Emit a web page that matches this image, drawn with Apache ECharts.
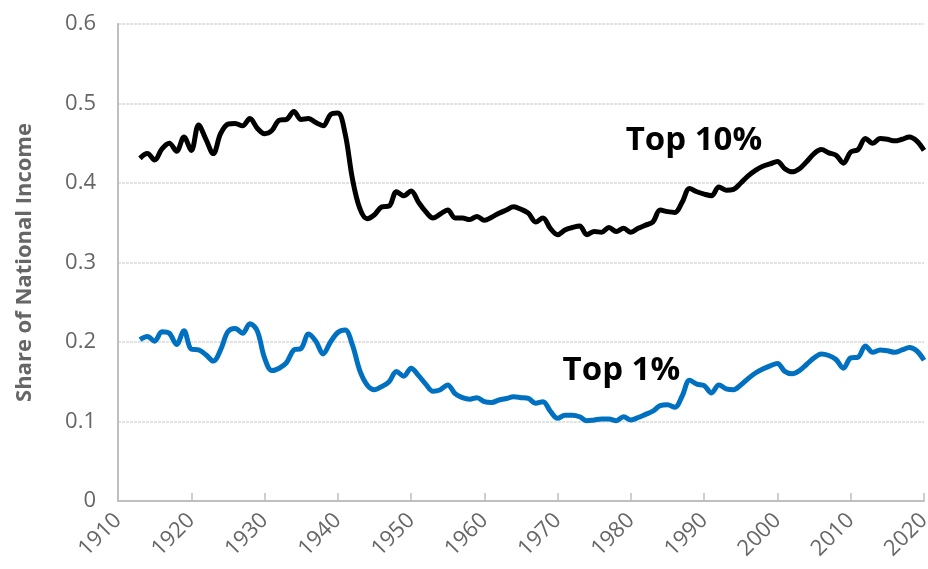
<!DOCTYPE html>
<html>
<head>
<meta charset="utf-8">
<script src="https://cdn.jsdelivr.net/npm/echarts@6/dist/echarts.min.js"></script>
<style>html,body{margin:0;padding:0;background:#fff;}#c{width:928px;height:569px;}</style>
</head>
<body>
<div id="c"></div>
<script>
var startYear = 1913;
var top10 = [
0.431,0.437,0.429,0.443,0.450,0.440,0.458,0.441,0.473,0.455,
0.437,0.462,0.474,0.475,0.472,0.481,0.469,0.462,0.466,0.479,
0.480,0.490,0.480,0.481,0.476,0.472,0.486,0.488,0.462,0.405,
0.368,0.355,0.360,0.370,0.371,0.389,0.384,0.390,0.376,0.364,
0.356,0.361,0.366,0.356,0.356,0.354,0.358,0.353,0.357,0.362,
0.366,0.370,0.367,0.362,0.351,0.356,0.343,0.335,0.341,0.344,
0.346,0.335,0.339,0.338,0.344,0.339,0.343,0.338,0.343,0.347,
0.351,0.366,0.364,0.363,0.376,0.393,0.389,0.386,0.384,0.395,
0.391,0.392,0.400,0.409,0.416,0.421,0.424,0.427,0.418,0.414,
0.418,0.427,0.437,0.442,0.438,0.435,0.425,0.439,0.442,0.456,
0.450,0.456,0.455,0.453,0.455,0.458,0.453,0.441
];
var top1 = [
0.203,0.207,0.201,0.213,0.211,0.197,0.214,0.191,0.190,0.184,
0.176,0.190,0.213,0.217,0.211,0.223,0.214,0.180,0.164,0.167,
0.174,0.190,0.192,0.210,0.201,0.185,0.200,0.212,0.215,0.196,
0.164,0.146,0.140,0.144,0.150,0.163,0.157,0.167,0.158,0.147,
0.138,0.140,0.146,0.135,0.130,0.128,0.130,0.125,0.124,0.127,
0.129,0.131,0.130,0.129,0.123,0.125,0.113,0.104,0.108,0.108,
0.106,0.101,0.102,0.103,0.103,0.101,0.106,0.102,0.105,0.109,
0.113,0.120,0.121,0.118,0.132,0.152,0.147,0.145,0.136,0.146,
0.141,0.140,0.146,0.154,0.161,0.166,0.170,0.173,0.163,0.160,
0.164,0.172,0.180,0.185,0.183,0.178,0.167,0.180,0.181,0.195,
0.187,0.190,0.189,0.187,0.190,0.193,0.189,0.177
];
var seriesNames = ['Top 10%', 'Top 1%'];
var labelPos10 = [1988.6, 0.453];
var labelPos1 = [1978.7, 0.1635];
var yTitle = 'Share of National Income';

function pairs(arr){ return arr.map(function(v,i){ return [startYear + i, v]; }); }

var chart = echarts.init(document.getElementById('c'), null, {renderer:'canvas'});
var font = '"Open Sans", "Liberation Sans", sans-serif';
chart.setOption({
  animation: false,
  backgroundColor: '#fff',
  grid: {left: 118, right: 4, top: 24, bottom: 68, containLabel: false, outerBoundsMode: 'none'},
  xAxis: {
    type: 'value', min: 1910, max: 2020, interval: 10,
    axisLine: {show: true, lineStyle: {color: '#bfbfbf', width: 2}},
    axisTick: {show: true, inside: true, length: 8, lineStyle: {color: '#bfbfbf', width: 1.5}},
    splitLine: {show: false},
    axisLabel: {rotate: 45, margin: 16, color: '#666', fontSize: 22, fontFamily: font,
      formatter: function(v){ return String(v); }}
  },
  yAxis: {
    type: 'value', min: 0, max: 0.6, interval: 0.1,
    name: yTitle, nameLocation: 'middle', nameGap: 82,
    nameTextStyle: {color: '#666', fontSize: 22, fontWeight: 'bold', fontFamily: font},
    axisLine: {show: true, lineStyle: {color: '#bfbfbf', width: 2}},
    axisTick: {show: false},
    splitLine: {show: true, lineStyle: {color: '#d9d9d9', width: 1.5, type: [3,1]}},
    axisLabel: {margin: 22, color: '#666', fontSize: 22, fontFamily: font,
      formatter: function(v){ return v === 0 ? '0' : v.toFixed(1); }}
  },
  series: [
    {
      name: seriesNames[0], type: 'line', data: pairs(top10), smooth: 0.35,
      showSymbol: false, lineStyle: {color: '#000', width: 5}, itemStyle: {color: '#000'},
      markPoint: {
        symbol: 'circle', symbolSize: 0, silent: true,
        label: {show: true, position: 'inside', formatter: seriesNames[0], color: '#000',
          fontSize: 33, fontWeight: 'bold', fontFamily: font},
        data: [{coord: labelPos10}]
      }
    },
    {
      name: seriesNames[1], type: 'line', data: pairs(top1), smooth: 0.35,
      showSymbol: false, lineStyle: {color: '#0070C0', width: 5}, itemStyle: {color: '#0070C0'},
      markPoint: {
        symbol: 'circle', symbolSize: 0, silent: true,
        label: {show: true, position: 'inside', formatter: seriesNames[1], color: '#000',
          fontSize: 33, fontWeight: 'bold', fontFamily: font},
        data: [{coord: labelPos1}]
      }
    }
  ]
});
</script>
</body>
</html>
